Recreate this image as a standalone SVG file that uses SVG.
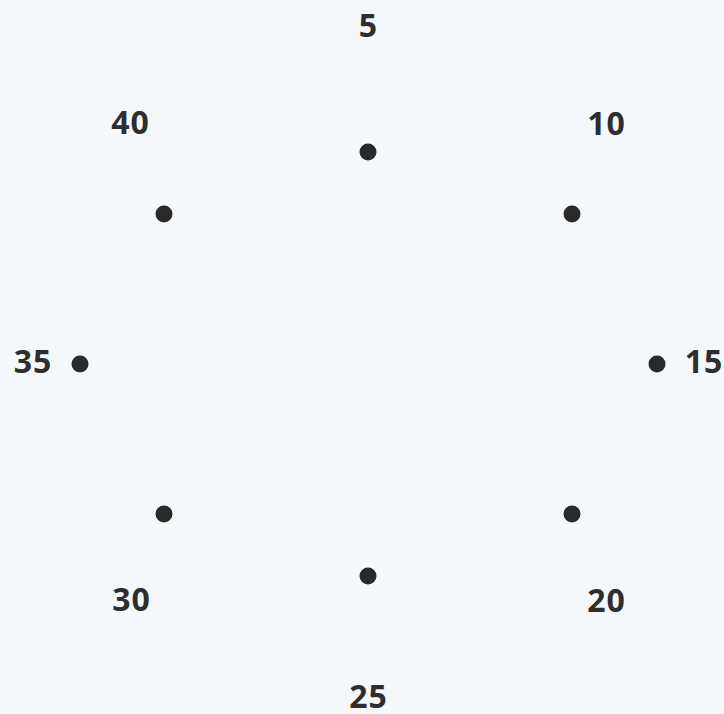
<svg xmlns="http://www.w3.org/2000/svg" width="724" height="714" viewBox="0 0 724 714">
<style>
.bg{fill:#f5f8fa}
.dot{fill:#2a2a2a}
.lbl{font-family:"Open Sans","DejaVu Sans",sans-serif;font-weight:700;font-size:32px;letter-spacing:1px;fill:#2e2e2e;text-anchor:middle}
</style>
<rect class="bg" x="0" y="0" width="724" height="714"/>
<g id="connectors"></g>
<g id="n5"><circle class="dot" cx="368" cy="152" r="8.5"/><text class="lbl" x="368.5" y="37">5</text></g>
<g id="n10"><circle class="dot" cx="572" cy="214" r="8.5"/><text class="lbl" x="606.5" y="135">10</text></g>
<g id="n15"><circle class="dot" cx="657" cy="364" r="8.5"/><text class="lbl" x="704" y="373">15</text></g>
<g id="n20"><circle class="dot" cx="572" cy="514" r="8.5"/><text class="lbl" x="606.5" y="612">20</text></g>
<g id="n25"><circle class="dot" cx="368" cy="576" r="8.5"/><text class="lbl" x="368.5" y="708">25</text></g>
<g id="n30"><circle class="dot" cx="164" cy="514" r="8.5"/><text class="lbl" x="131.5" y="611">30</text></g>
<g id="n35"><circle class="dot" cx="80" cy="364" r="8.5"/><text class="lbl" x="33" y="373">35</text></g>
<g id="n40"><circle class="dot" cx="164" cy="214" r="8.5"/><text class="lbl" x="130.5" y="134">40</text></g>
</svg>
